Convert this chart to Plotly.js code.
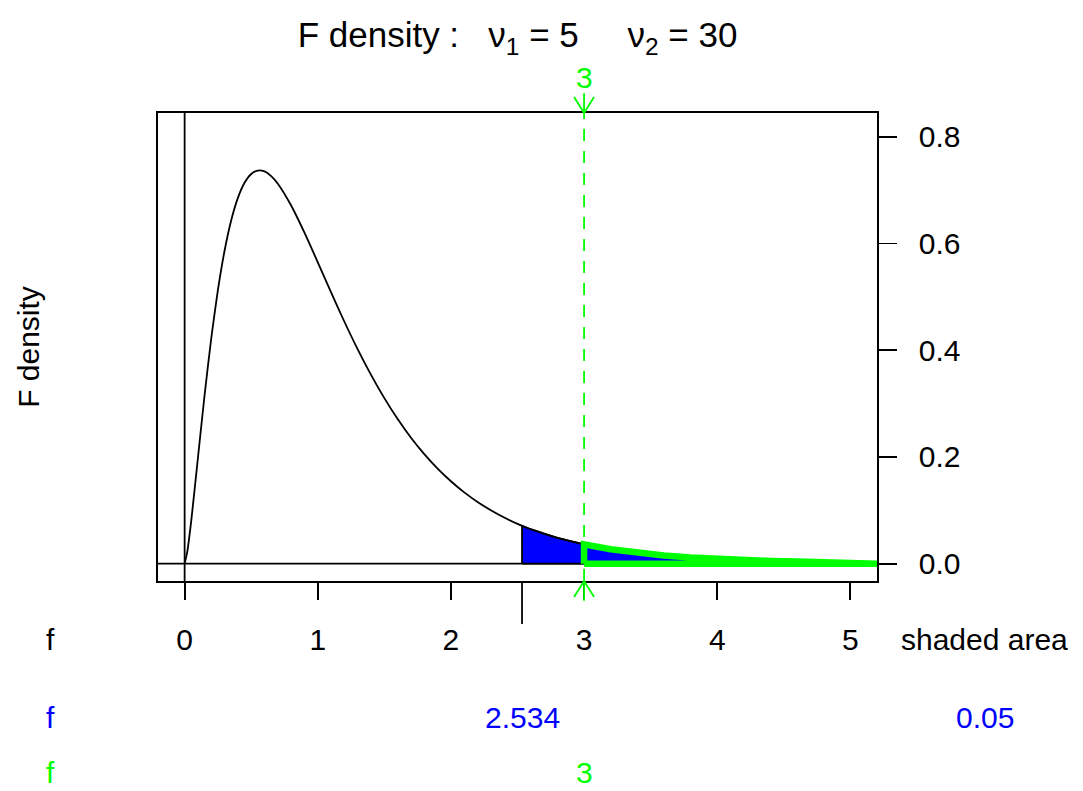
<!DOCTYPE html>
<html>
<head>
<meta charset="utf-8">
<script src="https://cdn.plot.ly/plotly-3.0.1.min.js"></script>
<style>html,body{margin:0;padding:0;background:#fff;}#chart{width:1083px;height:791px;}</style>
</head>
<body>
<div id="chart"></div>
<script>
// ---- data ----
const fX = [0, 0.02, 0.05, 0.1, 0.15, 0.2, 0.25, 0.3, 0.35, 0.4, 0.45, 0.5, 0.55, 0.6, 0.65, 0.7,
            0.8, 0.9, 1.0, 1.1, 1.2, 1.3, 1.4, 1.5, 1.6, 1.7, 1.8, 1.9, 2.0, 2.1, 2.2, 2.3, 2.4, 2.5,
            2.534, 2.6, 2.8, 3.0, 3.2, 3.4, 3.6, 3.8, 4.0, 4.2, 4.4, 4.6, 4.8, 5.0, 5.2];
const fDensity = [0, 0.0224, 0.0810, 0.1984, 0.3160, 0.4223, 0.5127, 0.5863, 0.6434, 0.6852, 0.7135,
            0.7301, 0.7365, 0.7348, 0.7259, 0.7117, 0.6709, 0.6200, 0.5646, 0.5082, 0.4532, 0.4015,
            0.3537, 0.3101, 0.2709, 0.2360, 0.2052, 0.1780, 0.1543, 0.1335, 0.1156, 0.1000, 0.0864,
            0.0746, 0.0710, 0.0645, 0.0482, 0.0361, 0.0271, 0.0203, 0.0153, 0.0116, 0.0088, 0.0067,
            0.0051, 0.0039, 0.0030, 0.0023, 0.0018];
const xTicks = [0, 1, 2, 3, 4, 5];
const yTicks = [0, 0.2, 0.4, 0.6, 0.8];
const fCritical = 2.534;     // blue
const shadedArea = 0.05;     // blue
const fObserved = 3;         // green
const nu1 = 5, nu2 = 30;

// ---- build traces ----
const BLUE = '#0000FF', GREEN = '#00FF00';
const LW = 1.8;
function tailFrom(x0) {
  const xs = [], ys = [];
  fX.forEach((x, i) => { if (x >= x0) { xs.push(x); ys.push(fDensity[i]); } });
  return {xs, ys};
}
const blueTail = tailFrom(fCritical);
const greenTail = tailFrom(fObserved);
const xEnd = fX[fX.length - 1];

const bluePoly = {
  x: [fCritical].concat(blueTail.xs, [xEnd, fCritical]),
  y: [0].concat(blueTail.ys, [0, 0]),
  type: 'scatter', mode: 'lines', fill: 'toself', fillcolor: BLUE,
  line: {color: '#000000', width: LW}, hoverinfo: 'skip', showlegend: false
};
const curve = {
  x: fX, y: fDensity, type: 'scatter', mode: 'lines',
  line: {color: '#000000', width: LW, shape: 'spline', smoothing: 0.6},
  hoverinfo: 'skip', showlegend: false
};
const greenPoly = {
  x: [fObserved].concat(greenTail.xs, [xEnd, fObserved]),
  y: [0].concat(greenTail.ys, [0, 0]),
  type: 'scatter', mode: 'lines',
  line: {color: GREEN, width: 6.5}, hoverinfo: 'skip', showlegend: false
};

const FONT = 'Liberation Sans, Arial, Helvetica, sans-serif';
const FS = 30;

// arrow geometry (sizes only)
const armDx = 0.075, armDy = 0.034, stemDy = 0.042;

const shapes = [
  // zero lines
  {type: 'line', xref: 'x', yref: 'paper', x0: 0, x1: 0, y0: 0, y1: 1, line: {color: '#000', width: LW}, layer: 'below'},
  {type: 'line', xref: 'paper', yref: 'y', x0: 0, x1: 1, y0: 0, y1: 0, line: {color: '#000', width: LW}, layer: 'below'},
  // long tick at critical value
  {type: 'line', xref: 'x', yref: 'paper', x0: fCritical, x1: fCritical, y0: 0, y1: -0.092, line: {color: '#000', width: LW}},
  // green dashed line at observed value
  {type: 'line', xref: 'x', yref: 'paper', x0: fObserved, x1: fObserved, y0: 0, y1: 1, line: {color: GREEN, width: LW, dash: '12px,10px'}},
  // top arrow
  {type: 'line', xref: 'x', yref: 'paper', x0: fObserved, x1: fObserved, y0: 1, y1: 1 + stemDy, line: {color: GREEN, width: LW}},
  {type: 'line', xref: 'x', yref: 'paper', x0: fObserved - armDx, x1: fObserved, y0: 1 + armDy, y1: 1, line: {color: GREEN, width: LW}},
  {type: 'line', xref: 'x', yref: 'paper', x0: fObserved + armDx, x1: fObserved, y0: 1 + armDy, y1: 1, line: {color: GREEN, width: LW}},
  // bottom arrow
  {type: 'line', xref: 'x', yref: 'paper', x0: fObserved, x1: fObserved, y0: 0, y1: -stemDy, line: {color: GREEN, width: LW}},
  {type: 'line', xref: 'x', yref: 'paper', x0: fObserved - armDx, x1: fObserved, y0: -armDy, y1: 0, line: {color: GREEN, width: LW}},
  {type: 'line', xref: 'x', yref: 'paper', x0: fObserved + armDx, x1: fObserved, y0: -armDy, y1: 0, line: {color: GREEN, width: LW}}
];

const rowY = [-0.126, -0.291, -0.410];
function ann(text, xref, x, y, color, extra) {
  return Object.assign({text: text, xref: xref, yref: 'paper', x: x, y: y, showarrow: false,
    xanchor: 'center', yanchor: 'middle', font: {family: FONT, size: FS, color: color}}, extra || {});
}
const annotations = [
  ann('F density', 'paper', -0.181, 0.5, '#000', {textangle: -90}),
  ann('f', 'paper', -0.150, rowY[0], '#000'),
  ann('shaded area', 'paper', 1.150, rowY[0], '#000'),
  ann('f', 'paper', -0.150, rowY[1], BLUE),
  ann(fCritical.toFixed(3), 'x', fCritical, rowY[1], BLUE),
  ann(String(shadedArea), 'paper', 1.150, rowY[1], BLUE),
  ann('f', 'paper', -0.150, rowY[2], GREEN),
  ann(String(fObserved), 'x', fObserved, rowY[2], GREEN),
  ann(String(fObserved), 'x', fObserved, 1.075, GREEN)
];

const layout = {
  width: 1083, height: 791,
  margin: {l: 158, r: 206, t: 113, b: 210, pad: 0},
  paper_bgcolor: '#fff', plot_bgcolor: '#fff',
  font: {family: FONT, size: FS, color: '#000'},
  title: {
    text: 'F density :&nbsp;&nbsp;&nbsp;ν<sub>1</sub> = ' + nu1 + '&nbsp;&nbsp;&nbsp;&nbsp;&nbsp;ν<sub>2</sub> = ' + nu2,
    font: {family: FONT, size: 35, color: '#000'},
    x: 0.5, xref: 'paper', xanchor: 'center', y: 1 - 35 / 791, yref: 'container', yanchor: 'middle'
  },
  xaxis: {
    range: [-0.2, 5.2], tickvals: xTicks, ticktext: xTicks.map(String),
    ticks: 'outside', ticklen: 17, tickwidth: LW, tickcolor: '#000',
    showline: true, linecolor: '#000', linewidth: LW, mirror: true,
    showgrid: false, zeroline: false, ticklabelstandoff: 14,
    tickfont: {family: FONT, size: FS, color: '#000'}, fixedrange: true
  },
  yaxis: {
    range: [-0.0325, 0.8443], side: 'right', tickvals: yTicks, ticktext: yTicks.map(v => v.toFixed(1)),
    ticks: 'outside', ticklen: 18, tickwidth: LW, tickcolor: '#000',
    showline: true, linecolor: '#000', linewidth: LW, mirror: true,
    showgrid: false, zeroline: false, ticklabelstandoff: 16,
    tickfont: {family: FONT, size: FS, color: '#000'}, fixedrange: true
  },
  shapes: shapes,
  annotations: annotations,
  showlegend: false
};

Plotly.newPlot('chart', [bluePoly, curve, greenPoly], layout, {staticPlot: true, displayModeBar: false});
</script>
</body>
</html>
